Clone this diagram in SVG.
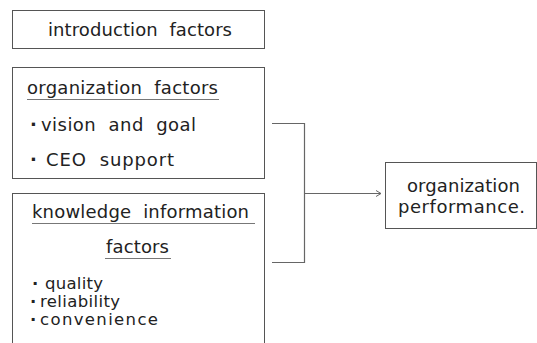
<svg xmlns="http://www.w3.org/2000/svg" width="537" height="343" viewBox="0 0 537 343">
<defs>
<style>
.box{fill:#fff;stroke:#555;stroke-width:1}
.t{font-family:"DejaVu Sans","Liberation Sans",sans-serif;font-size:18px;fill:#222;white-space:pre}
.s{font-size:16.5px}
.b{font-weight:bold}
.ul{stroke:#777;stroke-width:1}
.con{fill:none;stroke:#666;stroke-width:1.2}
</style>
<marker id="ah" markerWidth="8" markerHeight="8" refX="6" refY="4" orient="auto" markerUnits="userSpaceOnUse">
<path d="M1,1 L6,4 L1,7" fill="none" stroke="#666" stroke-width="1"/>
</marker>
</defs>
<rect width="537" height="343" fill="#fff"/>
<g id="introduction">
<rect class="box" x="12.5" y="10.5" width="252" height="38"/>
<text class="t" x="48" y="36" textLength="184" lengthAdjust="spacing">introduction  factors</text>
</g>
<g id="organization">
<rect class="box" x="12.5" y="67.5" width="252" height="111"/>
<text class="t" x="27" y="94" textLength="191" lengthAdjust="spacing">organization  factors</text>
<line class="ul" x1="27" y1="99.5" x2="219" y2="99.5"/>
<text class="t b" x="30" y="131">·</text>
<text class="t" x="41" y="131" textLength="155" lengthAdjust="spacing">vision  and  goal</text>
<text class="t b" x="30" y="166">·</text>
<text class="t" x="46" y="166" textLength="128" lengthAdjust="spacing">CEO  support</text>
</g>
<g id="knowledge">
<rect class="box" x="12.5" y="193.5" width="252" height="160"/>
<text class="t" x="32" y="218" textLength="217" lengthAdjust="spacing">knowledge  information</text>
<line class="ul" x1="32" y1="223.5" x2="255" y2="223.5"/>
<text class="t" x="106" y="253" textLength="63" lengthAdjust="spacing">factors</text>
<line class="ul" x1="105" y1="258.5" x2="171" y2="258.5"/>
<text class="t s b" x="32" y="289">·</text>
<text class="t s" x="45" y="289" textLength="58" lengthAdjust="spacing">quality</text>
<text class="t s b" x="30" y="307">·</text>
<text class="t s" x="40" y="307" textLength="80" lengthAdjust="spacing">reliability</text>
<text class="t s b" x="30" y="325">·</text>
<text class="t s" x="40" y="325" textLength="118" lengthAdjust="spacing">convenience</text>
</g>
<g id="performance">
<rect class="box" x="385.5" y="162.5" width="151" height="66"/>
<text class="t" x="407" y="192" textLength="113" lengthAdjust="spacing">organization</text>
<text class="t" x="398" y="213" textLength="127" lengthAdjust="spacing">performance.</text>
</g>
<g id="connectors">
<path class="con" d="M272,123.5 H304.5 V262.5 H272"/>
<line class="con" x1="304.5" y1="193.5" x2="381" y2="193.5" marker-end="url(#ah)"/>
</g>
</svg>
